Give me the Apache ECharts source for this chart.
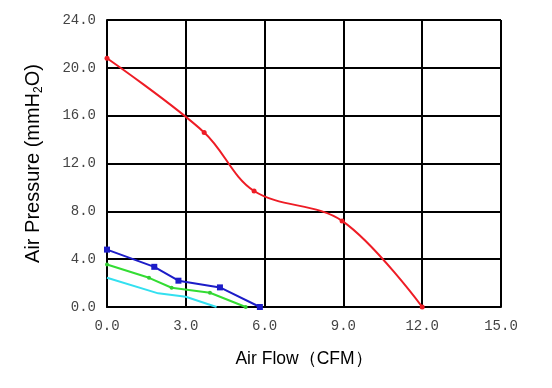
<!DOCTYPE html>
<html><head><meta charset="utf-8">
<script src="https://cdn.jsdelivr.net/npm/echarts@6/dist/echarts.min.js"></script>
<style>html,body{margin:0;padding:0;background:#fff}#c{width:552px;height:388px}</style>
</head><body><div id="c"></div>
<script>
const redFlow = [0, 3.7, 5.6, 8.95, 12.0];
const redPress = [20.8, 14.6, 9.7, 7.2, 0];
const blueFlow = [0, 1.8, 2.72, 4.3, 5.82];
const bluePress = [4.8, 3.36, 2.2, 1.64, 0];
const greenFlow = [0, 1.6, 2.46, 3.92, 5.28];
const greenPress = [3.56, 2.44, 1.61, 1.19, 0];
const cyanFlow = [0, 1.95, 3.0, 4.17];
const cyanPress = [2.44, 1.14, 0.86, 0];

const zip = (a, b) => a.map((v, i) => [v, b[i]]);
const chart = echarts.init(document.getElementById('c'));
const lab = {fontFamily: 'Liberation Mono', fontSize: 14, color: '#444', formatter: v => v.toFixed(1)};
const split = {show: true, lineStyle: {color: '#000', width: 2}};
chart.setOption({
  animation: false,
  grid: {left: 107, right: 51, top: 20, bottom: 81},
  xAxis: {type: 'value', min: 0, max: 15, interval: 3,
    axisLine: {show: true, lineStyle: {color: '#000', width: 2}}, axisTick: {show: false},
    splitLine: split, axisLabel: Object.assign({margin: 12}, lab),
    name: 'Air Flow（CFM）', nameLocation: 'middle', nameGap: 43,
    nameTextStyle: {fontFamily: 'Liberation Sans', fontSize: 17.5, color: '#000'}},
  yAxis: {type: 'value', min: 0, max: 24, interval: 4,
    axisLine: {show: true, lineStyle: {color: '#000', width: 2}}, axisTick: {show: false},
    splitLine: split, axisLabel: Object.assign({margin: 11}, lab),
    name: '{a|Air Pressure (mmH}{b|2}{a|O)}', nameLocation: 'middle', nameGap: 62,
    nameTextStyle: {rich: {
      a: {fontFamily: 'Liberation Sans', fontSize: 20, color: '#000'},
      b: {fontFamily: 'Liberation Sans', fontSize: 12, color: '#000', padding: [12, 0, 0, 0]}
    }}},
  series: [
    {type: 'line', data: zip(redFlow, redPress), smooth: 0.35, symbol: 'circle', symbolSize: 5,
      itemStyle: {color: '#ee1c25'}, lineStyle: {color: '#ee1c25', width: 2}},
    {type: 'line', data: zip(blueFlow, bluePress), symbol: 'rect', symbolSize: 6,
      itemStyle: {color: '#1c1cc8'}, lineStyle: {color: '#1c1cc8', width: 2}},
    {type: 'line', data: zip(greenFlow, greenPress), symbol: 'circle', symbolSize: 4,
      itemStyle: {color: '#33cc33'}, lineStyle: {color: '#33dd33', width: 2}},
    {type: 'line', data: zip(cyanFlow, cyanPress), symbol: 'none',
      lineStyle: {color: '#33e0f0', width: 2}}
  ]
});
</script></body></html>
